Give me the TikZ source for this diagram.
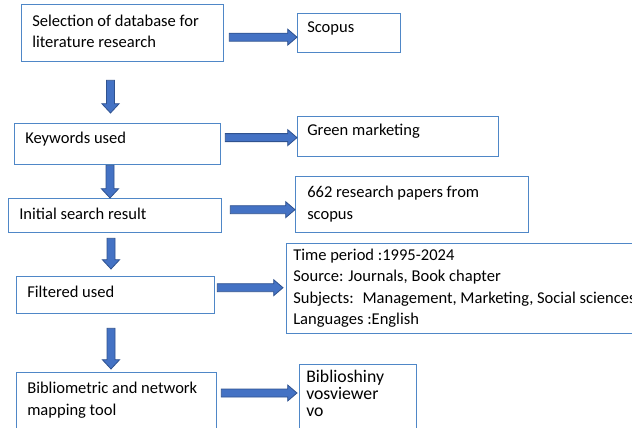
\documentclass[tikz,border=0pt]{standalone}
\usepackage{fontspec}
\setmainfont{Carlito}
\usepackage{tikz}
\usetikzlibrary{calc}

\definecolor{boxline}{HTML}{4F87C7}
\definecolor{arrowfill}{HTML}{4472C4}
\definecolor{arrowline}{HTML}{2F528F}

\tikzset{
  box/.style = {draw=boxline, line width=1pt, inner sep=0pt, anchor=north west},
  txt/.style = {anchor=base west, inner sep=0pt, align=left, font=\fontsize{12.4}{16}\selectfont},
  blockarrow/.style = {draw=arrowline, fill=arrowfill, line width=0.6pt, line join=miter},
}

% block arrows (start, end)
\newcommand\harrow[2]{%
  \path[blockarrow] let \p1=(#1), \p2=(#2) in
    (\x1,\y1+3pt) -- (\x2-7pt,\y1+3pt) -- (\x2-7pt,\y1+6pt) -- (\x2,\y1)
    -- (\x2-7pt,\y1-6pt) -- (\x2-7pt,\y1-3pt) -- (\x1,\y1-3pt) -- cycle;}
\newcommand\varrow[2]{%
  \path[blockarrow] let \p1=(#1), \p2=(#2) in
    (\x1-3pt,\y1) -- (\x1-3pt,\y2+7pt) -- (\x1-6.5pt,\y2+7pt) -- (\x1,\y2)
    -- (\x1+6.5pt,\y2+7pt) -- (\x1+3pt,\y2+7pt) -- (\x1+3pt,\y1) -- cycle;}

\begin{document}
\begin{tikzpicture}[x=0.75pt, y=-0.75pt]
    \useasboundingbox (0,0) rectangle (632,428);

    % left column
    \node[box, minimum width=151.5pt, minimum height=42.75pt] (sel) at (21,4) {};
    \node[box, minimum width=154.5pt, minimum height=30.75pt] (kw) at (14,123) {};
    \node[box, minimum width=159.75pt, minimum height=25.5pt] (init) at (8,198) {};
    \node[box, minimum width=148.5pt, minimum height=27.75pt] (filt) at (16,276) {};
    \node[box, minimum width=150pt, minimum height=51pt] (bib) at (16,372) {};

    % right column
    \node[box, minimum width=77.25pt, minimum height=29.25pt] (scopus) at (297,13) {};
    \node[box, minimum width=150.75pt, minimum height=30pt] (green) at (297,116) {};
    \node[box, minimum width=174.75pt, minimum height=42pt] (res) at (295,176) {};
    \node[box, minimum width=269.25pt, minimum height=67.5pt] (crit) at (286,243) {};
    \node[box, minimum width=87.75pt, minimum height=57pt] (tools) at (299,364) {};

    % texts (placed at the baseline of their last line)
    \node[txt, font=\fontsize{12.4}{15.75}\selectfont] (sel-t) at (32,48) {Selection of database for\\literature research};
    \node[txt] (kw-t) at (25,143) {Keywords used};
    \node[txt] (init-t) at (19,219) {Initial search result};
    \node[txt] (filt-t) at (27,297) {Filtered used};
    \node[txt, font=\fontsize{12.4}{16.5}\selectfont] (bib-t) at (27,415) {Bibliometric and network\\mapping tool};
    \node[txt] (scopus-t) at (307,33) {Scopus};
    \node[txt] (green-t) at (307,136) {Green marketing};
    \node[txt, font=\fontsize{12.4}{16.5}\selectfont] (res-t) at (307,219) {662 research papers from\\scopus};
    \node[txt, font=\fontsize{12.4}{16.1}\selectfont] (crit-t) at (293,324.5) {Time period :1995-2024\\Source: Journals, Book chapter\\Subjects:~ Management, Marketing, Social sciences\\Languages :English};
    \node[txt, font=\fontsize{13.3}{12.75}\selectfont] (tools-t) at (306,416) {Biblioshiny\\vosviewer\\vo};

    % arrow ends
    \coordinate (a1s) at ([xshift=3.75pt,yshift=-3pt]sel.east);
    \coordinate (a2s) at ([xshift=3pt,yshift=4.9pt]kw.east);
    \coordinate (a3s) at ([xshift=6pt,yshift=4.5pt]init.east);
    \coordinate (a4s) at ([xshift=1.5pt,yshift=5.6pt]filt.east);
    \coordinate (a5s) at ([xshift=3pt,yshift=-15.75pt]bib.north east);
    \coordinate (d1s) at ([yshift=-13.5pt]sel.south -| 110.5,0);
    \coordinate (d2s) at (kw.south -| 110,0);
    \coordinate (d3s) at ([yshift=-3.75pt]init.south -| 111,0);
    \coordinate (d4s) at ([yshift=-10.5pt]filt.south -| 111,0);

    \harrow{a1s}{scopus.west |- a1s}
    \harrow{a2s}{green.west |- a2s}
    \harrow{a3s}{res.west |- a3s}
    \harrow{a4s}{[xshift=-2.25pt]crit.west |- a4s}
    \harrow{a5s}{[xshift=-1.5pt]tools.west |- a5s}

    \varrow{d1s}{[yshift=7.5pt]kw.north -| d1s}
    \varrow{d2s}{init.north -| d2s}
    \varrow{d3s}{[yshift=5.25pt]filt.north -| d3s}
    \varrow{d4s}{[yshift=2.25pt]bib.north -| d4s}
\end{tikzpicture}
\end{document}
